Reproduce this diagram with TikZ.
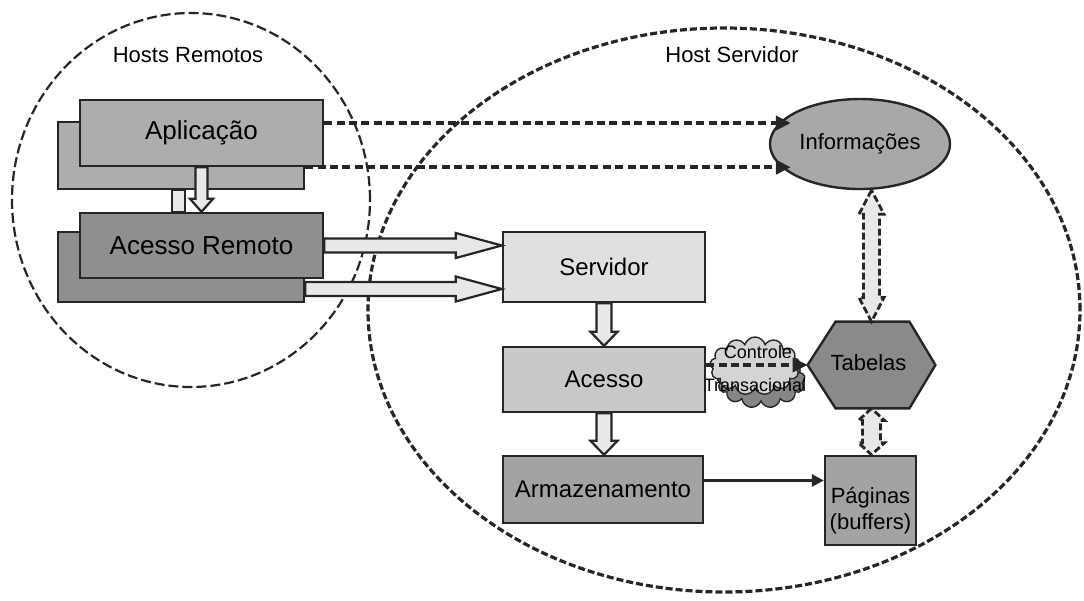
\documentclass[tikz,border=0pt]{standalone}
\usepackage{fontspec}
\setmainfont{Liberation Sans}
\usetikzlibrary{calc,arrows.meta,shapes.geometric,shapes.symbols}

\definecolor{ink}{gray}{0.15}
\definecolor{gApp}{gray}{0.68}
\definecolor{gRem}{gray}{0.56}
\definecolor{gSrv}{gray}{0.88}
\definecolor{gAcc}{gray}{0.79}
\definecolor{gArm}{gray}{0.64}
\definecolor{gInf}{gray}{0.66}
\definecolor{gTab}{gray}{0.54}
\definecolor{gPag}{gray}{0.64}
\definecolor{gArrow}{gray}{0.91}
\definecolor{gCloud}{gray}{0.83}
\definecolor{gShadow}{gray}{0.52}

% block arrow: [style]{from}{to}{half shaft}{half head}{head length}
\newcommand\blkarrow[6][]{%
  \coordinate (ba-h) at ($(#3)!#6!(#2)$);
  \path[blockarrow,#1] ($(#2)!#4!90:(#3)$) -- ($(ba-h)!#4!90:(#3)$)
    -- ($(ba-h)!#5!90:(#3)$) -- (#3) -- ($(ba-h)!#5!-90:(#3)$)
    -- ($(ba-h)!#4!-90:(#3)$) -- ($(#2)!#4!-90:(#3)$) -- cycle;}
% double-headed block arrow: [style]{end a}{end b}{half shaft}{half head}{head length}
\newcommand\dblarrow[6][]{%
  \coordinate (da-a) at ($(#2)!#6!(#3)$);
  \coordinate (da-b) at ($(#3)!#6!(#2)$);
  \path[blockarrow,#1] (#2) -- ($(da-a)!#5!-90:(#3)$) -- ($(da-a)!#4!-90:(#3)$)
    -- ($(da-b)!#4!90:(#2)$) -- ($(da-b)!#5!90:(#2)$) -- (#3)
    -- ($(da-b)!#5!-90:(#2)$) -- ($(da-b)!#4!-90:(#2)$)
    -- ($(da-a)!#4!90:(#3)$) -- ($(da-a)!#5!90:(#3)$) -- cycle;}

\tikzset{
  box/.style={draw=ink, line width=1.2pt, inner sep=0pt, text=black},
  bigtext/.style={font=\fontsize{13}{15}\selectfont},
  midtext/.style={font=\fontsize{12}{14}\selectfont},
  smalltext/.style={font=\fontsize{11}{13}\selectfont},
  tinytext/.style={font=\fontsize{9}{10}\selectfont, inner sep=0pt},
  zoneL/.style={draw=ink, line width=1.1pt, dash pattern=on 5pt off 2pt},
  zoneR/.style={draw=ink, line width=1.6pt, dash pattern=on 3.5pt off 1.5pt},
  blockarrow/.style={draw=ink, line width=1.1pt, fill=gArrow, line join=miter},
  dashblock/.style={dash pattern=on 3.5pt off 1.5pt, line width=1.4pt},
  dasharrow/.style={draw=ink, line width=2pt, dash pattern=on 4pt off 2.2pt,
    -{Triangle[length=7.5pt,width=7pt]}},
  solidarrow/.style={draw=ink, line width=1.4pt, -{Triangle[length=6pt,width=6pt]}},
}

\begin{document}
\begin{tikzpicture}[x=0.5pt,y=-0.5pt]
\useasboundingbox (0,0) rectangle (1084,601);

% the two hosts
\draw[zoneL] (191,200) ellipse [x radius=89.5pt, y radius=93.5pt];
\draw[zoneR] (724,310) ellipse [x radius=178pt, y radius=141pt];
\node[smalltext] (hr) at (188,55) {Hosts Remotos};
\node[smalltext] (hs) at (732,55) {Host Servidor};

% stacked remote components
\node[box, fill=gApp, minimum width=123pt, minimum height=33.5pt] (app2) at (181,155.5) {};
\node[box, fill=gRem, minimum width=123pt, minimum height=35pt] (rem2) at (181,267) {};
\node[box, fill=gApp, minimum width=121.5pt, minimum height=33pt, bigtext] (app) at (201.5,133) {Aplicação};
\node[box, fill=gRem, minimum width=121.5pt, minimum height=32.5pt, bigtext] (rem) at (201.5,245.5) {Acesso Remoto};
\draw[blockarrow] ($(app2.south)+(-9,0)$) rectangle ($(app2.south |- rem.north)+(4,0)$);
\blkarrow{app.south}{rem.north}{3pt}{5.75pt}{6.5pt}

% server components
\node[box, fill=gSrv, minimum width=101pt, minimum height=35pt, midtext] (srv) at (604,267) {Servidor};
\node[box, fill=gAcc, minimum width=101pt, minimum height=32.5pt, midtext] (acc) at (604,379.5) {Acesso};
\node[box, fill=gArm, minimum width=100pt, minimum height=33.5pt, midtext] (arm) at (603,489.5) {Armazenamento};
\node[box, fill=gPag, minimum width=45.5pt, minimum height=44.5pt] (pag) at (870.5,500.5) {};
\node[smalltext, align=center, inner sep=0pt] (pagtext) at ($(pag.center)+(0,10)$) {Páginas\\(buffers)};
\node[draw=ink, line width=1.2pt, fill=gInf, ellipse, inner sep=0pt,
  minimum width=90pt, minimum height=45pt, smalltext] (inf) at (860,144) {Informações};

% Tabelas hexagon
\node[inner sep=0pt, minimum width=63.5pt, minimum height=43pt] (tab) at (871.5,365) {};
\draw[draw=ink, line width=1.2pt, fill=gTab] (tab.west) -- ([xshift=14pt]tab.north west)
  -- ([xshift=-13pt]tab.north east) -- (tab.east) -- ([xshift=-13pt]tab.south east)
  -- ([xshift=14pt]tab.south west) -- cycle;
\node[smalltext] (tabtext) at ($(tab.center)+(-3,-2)$) {Tabelas};

% remote access to server
\coordinate (r1s) at (rem.east);
\coordinate (r1e) at (srv.west |- rem.east);
\coordinate (r2s) at ($(rem2.east)+(0,22)$);
\coordinate (r2e) at (srv.west |- r2s);
\blkarrow{r1s}{r1e}{3.5pt}{6.25pt}{23pt}
\blkarrow{r2s}{r2e}{3.5pt}{6.25pt}{23pt}

% server pipeline
\coordinate (armtop) at (acc.south |- arm.north);
\blkarrow{srv.south}{acc.north}{3.75pt}{6.75pt}{7pt}
\blkarrow{acc.south}{armtop}{3.75pt}{6.75pt}{7pt}

% application to information
\coordinate (d1s) at ($(app.east)+(0,-10)$);
\coordinate (d1e) at ($(inf.west |- d1s)+(22,0)$);
\coordinate (d2s) at (app2.east |- app.south);
\coordinate (d2e) at ($(inf.west |- d2s)+(22,0)$);
\draw[dasharrow] (d1s) -- (d1e);
\draw[dasharrow] (d2s) -- (d2e);

% information, tables and pages
\coordinate (infb) at (tab.north |- inf.south);
\coordinate (pagt) at (tab.south |- pag.north);
\dblarrow[dashblock]{infb}{tab.north}{4pt}{6.25pt}{12pt}
\dblarrow[dashblock]{tab.south}{pagt}{4.5pt}{6.5pt}{6pt}

% transaction control
\node[cloud, cloud puffs=13, cloud ignores aspect, draw=ink, line width=0.7pt, fill=gShadow,
  minimum width=44pt, minimum height=28pt] (ctlshadow) at (761,380) {};
\node[cloud, cloud puffs=13, cloud ignores aspect, draw=ink, line width=0.7pt, fill=gCloud,
  minimum width=45pt, minimum height=29pt] (ctl) at (755,366) {};
\coordinate (acct) at (acc.east |- tab.west);
\draw[dasharrow, line width=1.7pt] (acct) -- (tab.west);
\node[tinytext] (ctltop) at (758,352) {Controle};
\node[tinytext] (ctlbot) at (755,385) {Transacional};

% storage to pages
\coordinate (a1) at ($(arm.east)+(0,-9)$);
\draw[solidarrow] (a1) -- (a1 -| pag.west);
\end{tikzpicture}
\end{document}
